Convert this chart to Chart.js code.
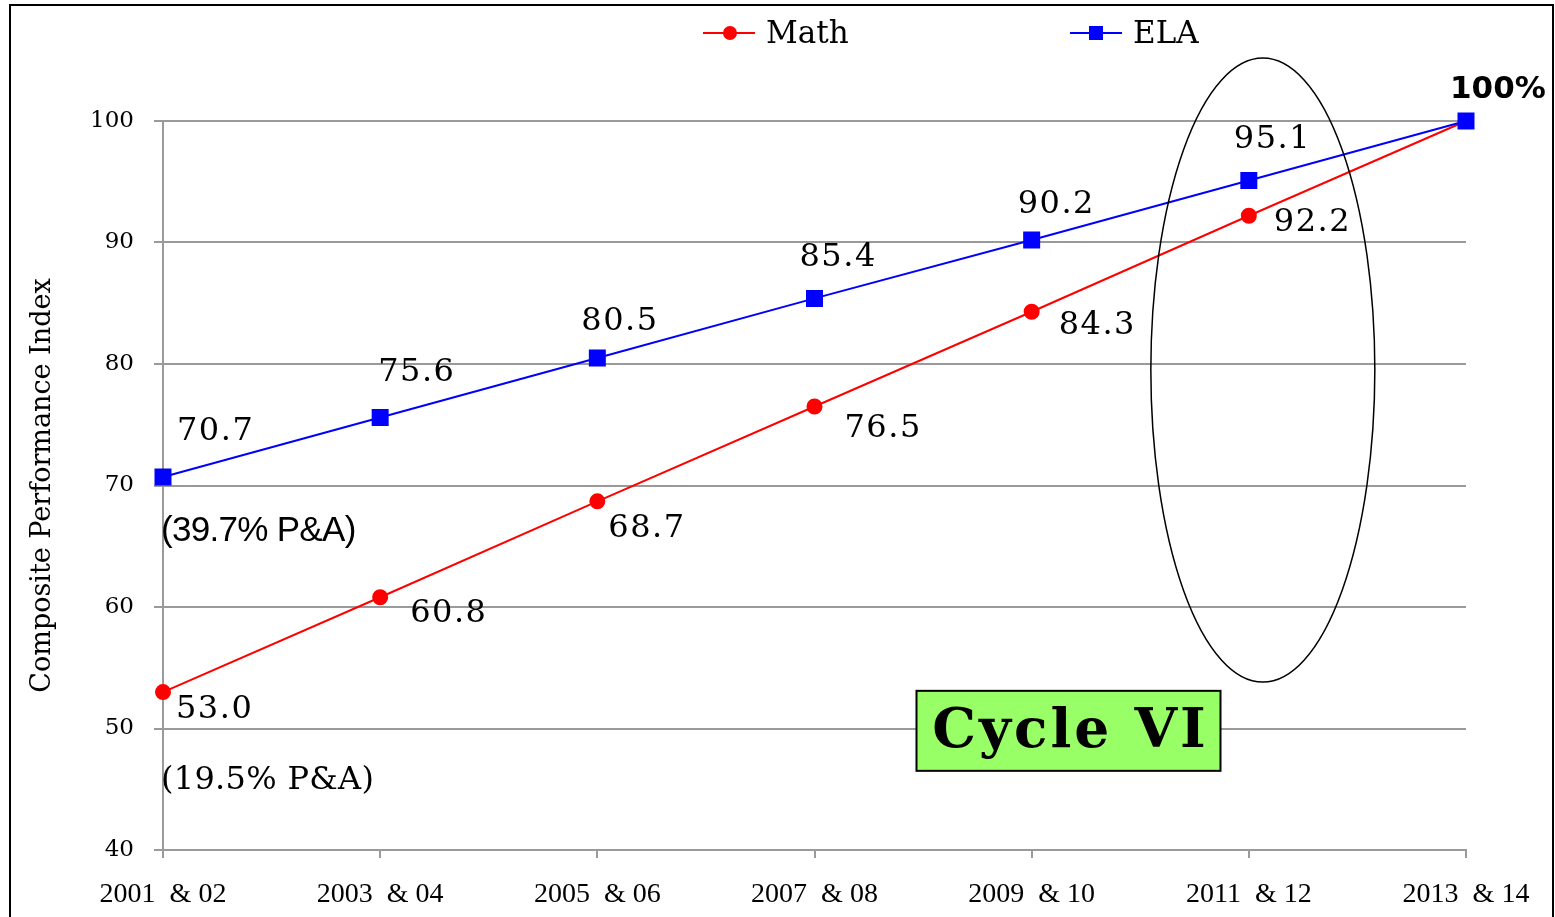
<!DOCTYPE html>
<html>
<head>
<meta charset="utf-8">
<script src="https://cdn.jsdelivr.net/npm/chart.js@4/dist/chart.umd.min.js"></script>
<style>
html,body{margin:0;padding:0;background:#fff;}
#wrap{width:1555px;height:917px;position:relative;}
</style>
</head>
<body>
<div id="wrap"><canvas id="c" width="1555" height="917"></canvas></div>
<script>
const categories = ["2001  & 02","2003  & 04","2005  & 06","2007  & 08","2009  & 10","2011  & 12","2013  & 14"];
const mathValues = [53.0, 60.8, 68.7, 76.5, 84.3, 92.2, 100];
const elaValues  = [70.7, 75.6, 80.5, 85.4, 90.2, 95.1, 100];
const yTicks = [40, 50, 60, 70, 80, 90, 100];
const seriesNames = ["Math", "ELA"];
const yTitle = "Composite Performance Index";
const noteMath = "(19.5% P&A)";
const noteEla = "(39.7% P&A)";
const finalLabel = "100%";
const cycleLabel = "Cycle VI";

// label placement (pixel offsets from each point: [dx (left edge), dy (center)])
const mathLabelOff = [[13,18],[30,16],[11,27],[30,22],[27,14],[25,7],null];
const elaLabelOff  = [[14,-45],[-2,-45],[-16,-36],[-15,-41],[-14,-35],[-15,-41],null];

const overlay = {
  id: 'overlay',
  beforeDraw(chart){
    const ctx = chart.ctx;
    ctx.save();
    ctx.fillStyle = '#fff';
    ctx.fillRect(0,0,chart.width,chart.height);
    ctx.restore();
  },
  afterDraw(chart){
    const ctx = chart.ctx;
    const xs = chart.scales.x, ys = chart.scales.y;
    ctx.save();
    // frame
    ctx.strokeStyle = '#000'; ctx.lineWidth = 2;
    ctx.strokeRect(10, 5, 1543, 940);

    // data labels
    ctx.fillStyle = '#000';
    ctx.textAlign = 'left'; ctx.textBaseline = 'middle';
    ctx.font = '32px "DejaVu Serif"';
    ctx.letterSpacing = '1.5px';
    const mMeta = chart.getDatasetMeta(0), eMeta = chart.getDatasetMeta(1);
    mMeta.data.forEach((p,i)=>{
      const o = mathLabelOff[i]; if(!o) return;
      ctx.fillText(mathValues[i].toFixed(1), p.x+o[0], p.y+o[1]);
    });
    eMeta.data.forEach((p,i)=>{
      const o = elaLabelOff[i]; if(!o) return;
      ctx.fillText(elaValues[i].toFixed(1), p.x+o[0], p.y+o[1]);
    });
    // 100%
    const last = eMeta.data[eMeta.data.length-1];
    ctx.letterSpacing = '0px';
    ctx.font = 'bold 31px "DejaVu Sans"';
    ctx.fillText(finalLabel, last.x-16, last.y-31);

    // P&A notes
    const e0 = eMeta.data[0], m0 = mMeta.data[0];
    ctx.font = '35px "Liberation Sans"';
    ctx.letterSpacing = '-0.7px';
    ctx.fillText(noteEla, e0.x-2, e0.y+54);
    ctx.font = '32px "DejaVu Serif"';
    ctx.letterSpacing = '0.3px';
    ctx.fillText(noteMath, m0.x-2, m0.y+89);
    ctx.letterSpacing = '0px';

    // ellipse around 2011 & 12
    const cx = xs.getPixelForValue(5) + 14;
    const cy = ys.getPixelForValue(79.5);
    ctx.beginPath();
    ctx.ellipse(cx, cy, 112, 312, 0, 0, Math.PI*2);
    ctx.strokeStyle = '#000'; ctx.lineWidth = 1.5;
    ctx.stroke();

    // Cycle VI box
    const bx = xs.getPixelForValue(3) + 102, by = ys.getPixelForValue(53.1);
    ctx.fillStyle = '#99ff66';
    ctx.fillRect(bx, by, 304, 80);
    ctx.strokeStyle = '#000'; ctx.lineWidth = 2;
    ctx.strokeRect(bx, by, 304, 80);
    ctx.fillStyle = '#000';
    ctx.font = 'bold 55px "DejaVu Serif"';
    ctx.letterSpacing = '3px';
    ctx.textAlign = 'center';
    ctx.fillText(cycleLabel, bx+152+2, by+42);
    ctx.letterSpacing = '0px';

    // legend
    const ds = chart.data.datasets;
    const legendX = [703, 1070];
    const ly = 33;
    ctx.font = '31px "DejaVu Serif"';
    ctx.textAlign = 'left';
    ds.forEach((d,i)=>{
      const x0 = legendX[i];
      ctx.strokeStyle = d.borderColor; ctx.lineWidth = 2;
      ctx.beginPath(); ctx.moveTo(x0, ly); ctx.lineTo(x0+52, ly); ctx.stroke();
      ctx.fillStyle = d.backgroundColor;
      if (d.pointStyle === 'rect') {
        ctx.fillRect(x0+26-7, ly-7, 14, 14);
      } else {
        ctx.beginPath(); ctx.arc(x0+27, ly, 7, 0, Math.PI*2); ctx.fill();
      }
      ctx.fillStyle = '#000';
      ctx.fillText(d.label, x0+63, ly+2);
    });
    ctx.restore();
  }
};

new Chart(document.getElementById('c'), {
  type: 'line',
  data: {
    labels: categories,
    datasets: [
      { label: seriesNames[0], data: mathValues, borderColor: '#ff0000', backgroundColor: '#ff0000', order: 2,
        borderWidth: 2, pointStyle: 'circle', pointRadius: 7, pointHoverRadius: 7, tension: 0, clip: false },
      { label: seriesNames[1], data: elaValues, borderColor: '#0000ff', backgroundColor: '#0000ff', order: 1,
        borderWidth: 2, pointStyle: 'rect', pointRadius: 10.6, pointHoverRadius: 10.6, tension: 0, clip: false }
    ]
  },
  options: {
    responsive: false,
    animation: false,
    devicePixelRatio: 1,
    layout: { padding: { left: 23, top: 121, right: 89, bottom: 0 } },
    plugins: { legend: { display: false }, tooltip: { enabled: false } },
    scales: {
      x: {
        type: 'category',
        offset: false,
        grid: { display: true, drawOnChartArea: false, drawTicks: true, tickLength: 8, color: '#9a9a9a', lineWidth: 2 },
        border: { display: true, color: '#9a9a9a', width: 2 },
        ticks: { color: '#000', font: { family: '"Liberation Serif"', size: 28 }, padding: 20, maxRotation: 0, autoSkip: false },
        afterFit: (s) => { s.height = 67; }
      },
      y: {
        min: 40, max: 100,
        afterBuildTicks: (s) => { s.ticks = yTicks.map(v => ({ value: v })); },
        grid: { display: true, drawOnChartArea: true, drawTicks: true, tickLength: 9, color: '#9a9a9a', lineWidth: 2 },
        border: { display: true, color: '#9a9a9a', width: 2 },
        ticks: { color: '#000', font: { family: '"DejaVu Serif"', size: 23 }, padding: 20 },
        title: { display: true, text: yTitle, color: '#000', font: { family: '"DejaVu Serif"', size: 27 } },
        afterFit: (s) => { s.width = 140; }
      }
    }
  },
  plugins: [overlay]
});
</script>
</body>
</html>
